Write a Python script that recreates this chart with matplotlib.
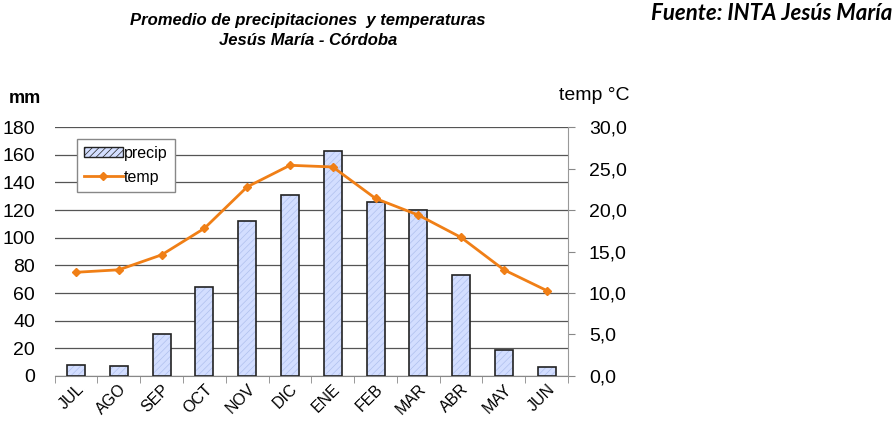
import numpy as np
import matplotlib.pyplot as plt
import matplotlib.patches as mpatches
from matplotlib.ticker import FuncFormatter

# Monthly data
months = ['JUL', 'AGO', 'SEP', 'OCT', 'NOV', 'DIC', 'ENE', 'FEB', 'MAR', 'ABR', 'MAY', 'JUN']
precip = [8, 7, 30, 64, 112, 131, 163, 126, 120, 73, 19, 6.5]
temp = [12.5, 12.8, 14.6, 17.8, 22.8, 25.4, 25.2, 21.4, 19.4, 16.7, 12.8, 10.3]

plt.rcParams['font.family'] = ['Liberation Sans', 'DejaVu Sans']
plt.rcParams['hatch.linewidth'] = 0.5

fig = plt.figure(figsize=(8.96, 4.21), dpi=100)
ax = fig.add_axes([0.061, 0.107, 0.573, 0.591])
ax2 = ax.twinx()

x = np.arange(len(months))
bar_fill = '#d3deff'
hatch_col = '#b0c0ee'

# bars: hatched fill first, then the dark outline
ax.bar(x, precip, width=0.42, color=bar_fill, edgecolor=hatch_col, hatch='/////', linewidth=0, zorder=2)
ax.bar(x, precip, width=0.42, color='none', edgecolor='#222222', linewidth=1.2, zorder=3)
ax.set_ylim(0, 180)
ax.set_xlim(-0.5, len(months) - 0.5)
ax.set_yticks(range(0, 181, 20))
ax.yaxis.grid(True, color='#555555', linewidth=0.9, zorder=0)
ax.set_axisbelow(True)
ax.tick_params(axis='y', length=0, labelsize=14, pad=14)
ax.set_xticks(x)
ax.set_xticklabels(months, rotation=45, fontsize=11.5)
ax.set_xticks(np.arange(-0.5, len(months)), minor=True)
ax.tick_params(axis='x', which='major', length=0, pad=4)
ax.tick_params(axis='x', which='minor', length=5, color='#888888')
for lbl in ax.get_xticklabels():
    lbl.set_rotation_mode('anchor')
    lbl.set_ha('right')
    lbl.set_va('top')
for s in ['top', 'left', 'right']:
    ax.spines[s].set_visible(False)
ax.spines['bottom'].set_color('#888888')

ax2.plot(x, temp, color='#f07f16', linewidth=2, marker='D', markersize=4.5, label='temp', zorder=4)
ax2.set_ylim(0, 30)
ax2.set_yticks(range(0, 31, 5))
ax2.yaxis.set_major_formatter(FuncFormatter(lambda v, p: f'{v:.1f}'.replace('.', ',')))
ax2.tick_params(axis='y', length=5, color='#888888', labelsize=14, pad=10)
for s in ['top', 'left', 'bottom']:
    ax2.spines[s].set_visible(False)
ax2.spines['right'].set_color('#999999')

h_bar = mpatches.Patch(facecolor=bar_fill, edgecolor='#222222', hatch='/////', linewidth=1)
h_line = ax2.get_legend_handles_labels()[0]
leg = ax2.legend([h_bar] + h_line, ['precip', 'temp'], loc='upper left', bbox_to_anchor=(0.028, 0.985),
                 fontsize=11.5, fancybox=False, edgecolor='#888888', framealpha=1, handlelength=2.4,
                 handleheight=0.6, handletextpad=0.1, borderpad=0.45, labelspacing=0.55)

fig.text(0.01, 0.765, 'mm', fontsize=13, fontweight='bold', va='center')
fig.text(0.624, 0.772, 'temp °C', fontsize=14, va='center')
fig.text(0.344, 0.952, 'Promedio de precipitaciones  y temperaturas', fontsize=12,
         fontweight='bold', fontstyle='italic', ha='center', va='center')
fig.text(0.344, 0.903, 'Jesús María - Córdoba', fontsize=12,
         fontweight='bold', fontstyle='italic', ha='center', va='center')
fig.text(0.996, 0.968, 'Fuente: INTA Jesús María', fontsize=16, fontweight='bold',
         fontstyle='italic', ha='right', va='center', family=['Lato', 'DejaVu Sans'])

fig.savefig('out.png', dpi=100)
